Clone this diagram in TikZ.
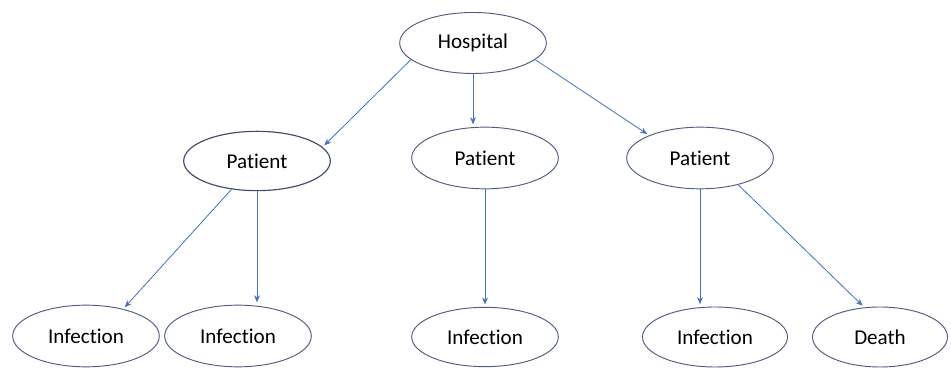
\documentclass[tikz,border=0pt]{standalone}
\usepackage{fontspec}
\setmainfont{Carlito}[Ligatures=NoCommon]
\usepackage{tikz}
\usetikzlibrary{shapes,arrows,arrows.meta,positioning,calc}
\definecolor{ellcolor}{RGB}{78, 92, 128}
\definecolor{arrowcolor}{RGB}{68, 114, 196}

\begin{document}
\begin{tikzpicture}[
                entity/.style={ellipse, draw=ellcolor, line width=0.8pt, fill=white, inner sep=0pt,
                               minimum width=4.4cm, minimum height=1.85cm, font=\fontsize{18}{21}\selectfont},
                arrow/.style={->, >={Stealth[length=6pt, width=5pt]}, draw=arrowcolor, line width=0.7pt, shorten >=2pt}]

                \useasboundingbox (0,0) rectangle (28.53,11.04);

                % Hospital
                \node[entity, minimum height=1.83cm] (hospital) at (14.19,9.75) {Hospital};

                % Patients
                \node[entity, line width=1pt, draw=ellcolor!85!black, minimum height=1.78cm] (patA) at (7.71,6.21) {Patient};
                \node[entity] (patB) at (14.55,6.30) {Patient};
                \node[entity] (patC) at (21.00,6.30) {Patient};
                \draw[arrow] (hospital.195) -- (patA.12);
                \draw[arrow] (hospital.south) -- (hospital.south |- patB.north);
                \draw[arrow] (hospital.345) -- (patC.156);

                % Outcomes
                \node[entity] (infA) at (2.58,0.96) {Infection};
                \node[entity] (infB) at (7.14,0.96) {Infection};
                \node[entity, minimum height=1.78cm] (infC) at (14.55,0.93) {Infection};
                \node[entity, minimum width=4.35cm, minimum height=1.8cm] (infD) at (21.45,0.93) {Infection};
                \node[entity, minimum width=4.05cm, minimum height=1.8cm] (death) at (26.40,0.93) {Death};

                \draw[arrow] (patA.228) -- (infA.36);
                \draw[arrow] (patA.south) -- (patA.south |- infB.north);
                \draw[arrow] (patB.south) -- (infC.north);
                \draw[arrow] (patC.south) -- (patC.south |- infD.north);
                \draw[arrow] (patC.325) -- (death.118);

            \end{tikzpicture}
\end{document}
